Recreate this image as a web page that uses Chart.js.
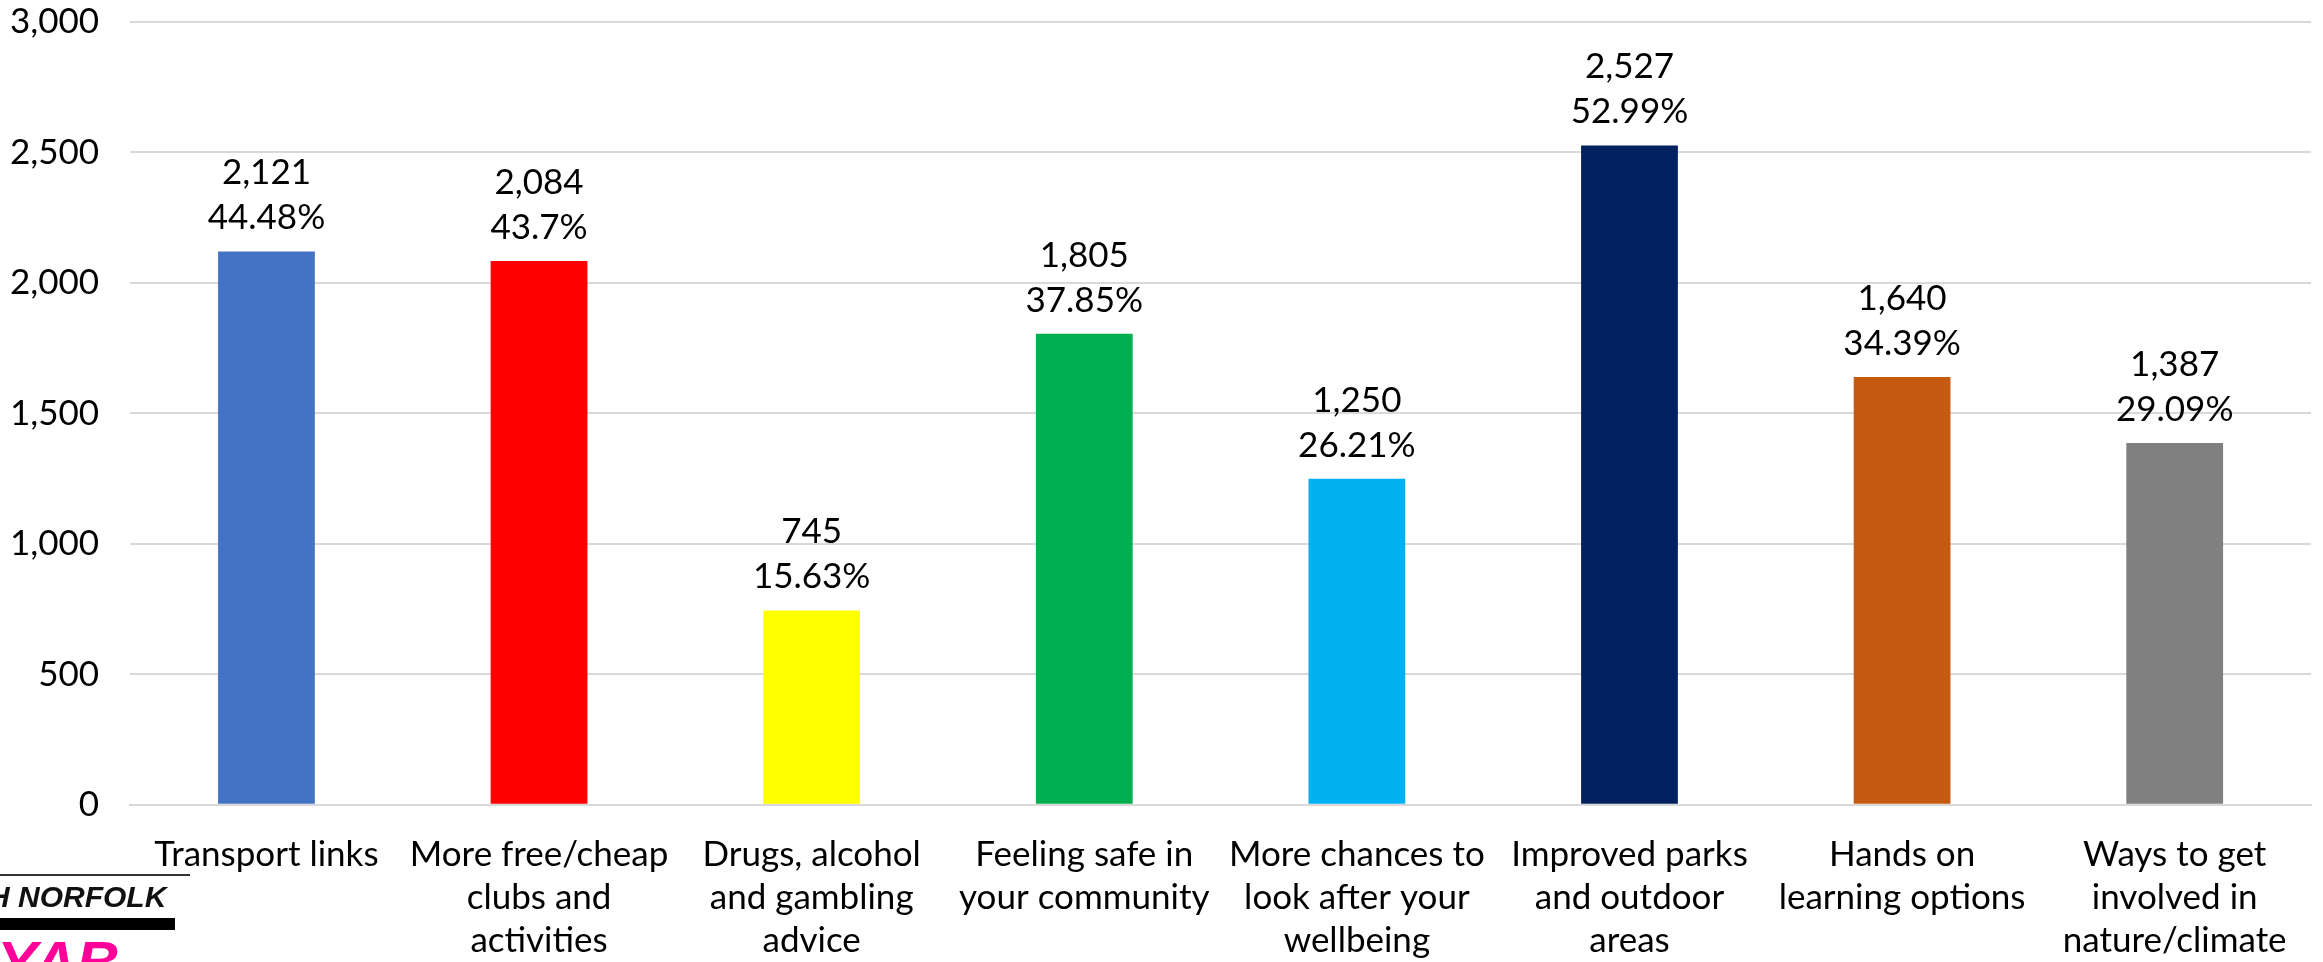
<!DOCTYPE html>
<html>
<head>
<meta charset="utf-8">
<script src="https://cdn.jsdelivr.net/npm/chart.js@4.4.1/dist/chart.umd.min.js"></script>
<style>
  html, body { margin: 0; padding: 0; background: #fff; }
  #wrap { position: relative; width: 2323px; height: 962px; overflow: hidden; }
  #myChart { position: absolute; left: -27px; top: -30px; }
  #logo-line { position: absolute; left: 0; top: 874px; width: 190px; height: 2px; background: #333; }
  #logo-top { position: absolute; left: -52px; top: 880px; font: italic bold 30px "Liberation Sans", Arial, sans-serif; color: #111; white-space: nowrap; }
  #logo-bar { position: absolute; left: 0; top: 918px; width: 175px; height: 12px; background: #000; }
  #logo-big { position: absolute; left: -46px; top: 928px; font: italic bold 60px "Liberation Sans", Arial, sans-serif; color: #ff0099; white-space: nowrap; }
</style>
</head>
<body>
<div id="wrap">
  <canvas id="myChart" width="2350" height="992"></canvas>
  <div id="logo-line"></div>
  <div id="logo-top">NTH NORFOLK</div>
  <div id="logo-bar"></div>
  <div id="logo-big">NYAB</div>
</div>
<script>
const categories = [
  'Transport links',
  ['More free/cheap', 'clubs and', 'activities'],
  ['Drugs, alcohol', 'and gambling', 'advice'],
  ['Feeling safe in', 'your community'],
  ['More chances to', 'look after your', 'wellbeing'],
  ['Improved parks', 'and outdoor', 'areas'],
  ['Hands on', 'learning options'],
  ['Ways to get', 'involved in', 'nature/climate']
];
const counts = [2121, 2084, 745, 1805, 1250, 2527, 1640, 1387];
const percents = [44.48, 43.7, 15.63, 37.85, 26.21, 52.99, 34.39, 29.09];
const yTicks = [0, 500, 1000, 1500, 2000, 2500, 3000];
const barColors = [
  '#4472C4',
  '#FF0000',
  '#FFFF00',
  '#00B050',
  '#00B0F0',
  '#002060',
  '#C55A11',
  '#808080'
];

const fontFamily = 'Lato, "Open Sans", sans-serif';
const fontSize = 35;

// two line value label above every bar
const barLabels = {
  id: 'barLabels',
  afterDatasetsDraw(chart) {
    const ctx = chart.ctx;
    const meta = chart.getDatasetMeta(0);
    ctx.save();
    ctx.font = fontSize + 'px ' + fontFamily;
    ctx.fillStyle = '#000';
    ctx.textAlign = 'center';
    ctx.textBaseline = 'alphabetic';
    meta.data.forEach((bar, i) => {
      ctx.fillText(percents[i] + '%', bar.x, bar.y - 22);
      ctx.fillText(counts[i].toLocaleString('en-US'), bar.x, bar.y - 67);
    });
    ctx.restore();
  }
};

const data = {
  labels: categories,
  datasets: [{
    data: counts,
    backgroundColor: barColors,
    barPercentage: 0.355,
    categoryPercentage: 1
  }]
};

const options = {
  responsive: false,
  animation: false,
  layout: {
    padding: { left: 6, right: 12, top: 0, bottom: -28 }
  },
  plugins: {
    legend: { display: false },
    tooltip: { enabled: false }
  },
  scales: {
    x: {
      grid: { display: false, drawTicks: false },
      border: { display: true, color: '#d9d9d9', width: 2 },
      ticks: {
        color: '#000',
        padding: 28,
        maxRotation: 0,
        autoSkip: false,
        font: { family: fontFamily, size: fontSize, lineHeight: 1.23 }
      }
    },
    y: {
      min: 0,
      max: 3000,
      afterBuildTicks: (scale) => {
        scale.ticks = yTicks.map(v => ({ value: v }));
      },
      grid: { color: '#d9d9d9', lineWidth: 2, drawTicks: false },
      border: { display: false },
      ticks: {
        color: '#000',
        padding: 31,
        font: { family: fontFamily, size: fontSize },
        callback: (v) => v.toLocaleString('en-US')
      }
    }
  }
};

const config = {
  type: 'bar',
  data: data,
  options: options,
  plugins: [barLabels]
};

let myChart = new Chart(document.querySelector('#myChart'), config);
</script>
</body>
</html>
